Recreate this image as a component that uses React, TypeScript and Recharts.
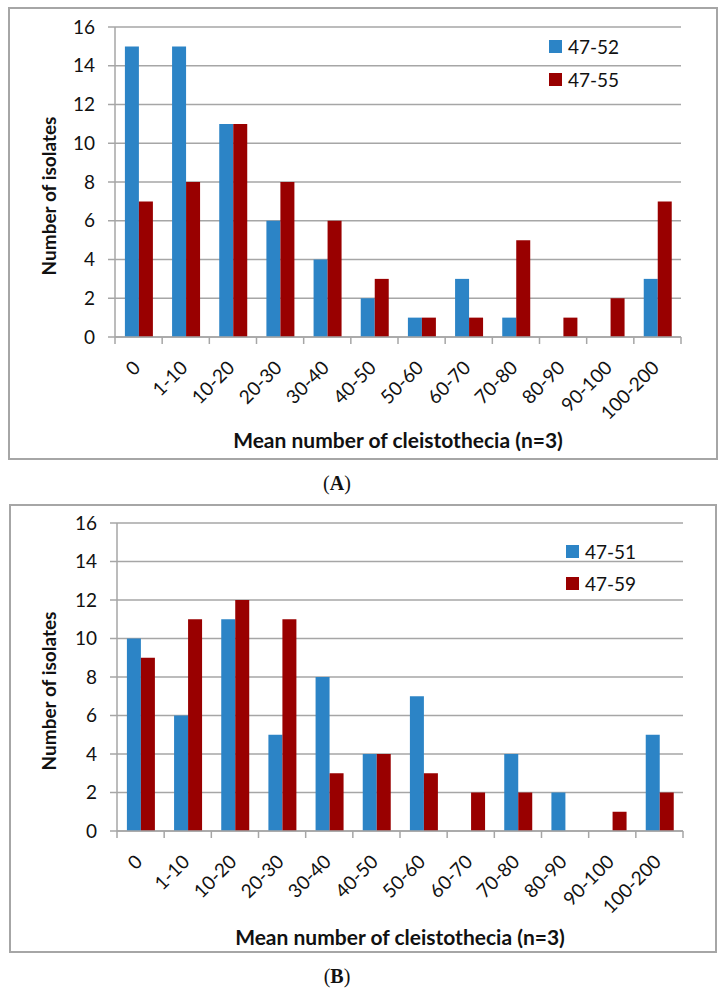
import React from 'react';
import { BarChart, Bar, XAxis, YAxis, CartesianGrid, Legend } from 'recharts';

const categories = ['0', '1-10', '10-20', '20-30', '30-40', '40-50', '50-60', '60-70', '70-80', '80-90', '90-100', '100-200'];
const yTicks = [0, 2, 4, 6, 8, 10, 12, 14, 16];

// panel A
const namesA = ['47-52', '47-55'];
const valuesA1 = [15, 15, 11, 6, 4, 2, 1, 3, 1, 0, 0, 3];
const valuesA2 = [7, 8, 11, 8, 6, 3, 1, 1, 5, 1, 2, 7];

// panel B
const namesB = ['47-51', '47-59'];
const valuesB1 = [10, 6, 11, 5, 8, 4, 7, 0, 4, 2, 0, 5];
const valuesB2 = [9, 11, 12, 11, 3, 4, 3, 2, 2, 0, 1, 2];

const BLUE = '#2C84C6';
const RED = '#990000';
const GRID = '#A6A6A6';
const FONT = 'Lato, "Open Sans", sans-serif';

const XTick = (props: any) => {
  const { x, y, payload, index, visibleTicksCount } = props;
  const half = payload && payload.offset ? payload.offset : 23.6;
  const tx = x + 3;
  const ty = y + 32;
  return (
    <g>
      <line x1={x - half} x2={x - half} y1={y} y2={y + 7} stroke={GRID} strokeWidth={1.5} />
      {index === visibleTicksCount - 1 && (
        <line x1={x + half} x2={x + half} y1={y} y2={y + 7} stroke={GRID} strokeWidth={1.5} />
      )}
      <text x={tx} y={ty} textAnchor="end" fontSize={19} fill="#111" transform={`rotate(-45 ${tx} ${ty})`}>
        {payload.value}
      </text>
    </g>
  );
};

const makeLegend = (rowH: number) => (props: any) => (
  <div style={{ fontFamily: FONT }}>
    {(props.payload || []).map((p: any) => (
      <div key={p.value} style={{ display: 'flex', alignItems: 'center', height: rowH }}>
        <span style={{ display: 'inline-block', width: 13, height: 13, background: p.color, marginRight: 6 }} />
        <span style={{ fontSize: 19, color: '#111' }}>{p.value}</span>
      </div>
    ))}
  </div>
);

interface PanelProps {
  names: string[];
  v1: number[];
  v2: number[];
  left: number;
  top: number;
  width: number;
  height: number;
  margin: { top: number; right: number; left: number; bottom: number };
  xAxisHeight: number;
  legendPos: { left: number; top: number; rowH: number };
  yTitle: { x: number; y: number };
  xTitle: { x: number; y: number };
}

const Panel = (p: PanelProps) => {
  const data = categories.map((c, i) => ({ cat: c, a: p.v1[i], b: p.v2[i] }));
  return (
    <div
      style={{
        position: 'absolute',
        left: p.left,
        top: p.top,
        width: p.width,
        height: p.height,
        border: `2px solid ${GRID}`,
        boxSizing: 'border-box',
        background: '#fff',
      }}
    >
      <BarChart
        width={p.width - 4}
        height={p.height - 4}
        data={data}
        margin={p.margin}
        barCategoryGap="21%"
        barGap={0}
        style={{ fontFamily: FONT }}
      >
        <CartesianGrid vertical={false} stroke={GRID} strokeWidth={1.5} />
        <XAxis
          dataKey="cat"
          interval={0}
          height={p.xAxisHeight}
          tickSize={0}
          tickMargin={0}
          tickLine={false}
          axisLine={{ stroke: GRID, strokeWidth: 1.5 }}
          tick={<XTick />}
          label={{
            content: () => (
              <text x={p.xTitle.x} y={p.xTitle.y} textAnchor="middle" fontSize={21} fontWeight="bold" fill="#111">
                Mean number of cleistothecia (n=3)
              </text>
            ),
          }}
        />
        <YAxis
          width={60}
          domain={[0, 16]}
          ticks={yTicks}
          interval={0}
          tickSize={7}
          tickMargin={13}
          axisLine={{ stroke: GRID, strokeWidth: 1.5 }}
          tickLine={{ stroke: GRID, strokeWidth: 1.5 }}
          tick={{ fontSize: 19, fill: '#111' }}
          label={{
            content: () => (
              <text
                x={p.yTitle.x}
                y={p.yTitle.y}
                textAnchor="middle"
                fontSize={19}
                fontWeight="bold"
                fill="#111"
                transform={`rotate(-90 ${p.yTitle.x} ${p.yTitle.y})`}
              >
                Number of isolates
              </text>
            ),
          }}
        />
        <Legend
          layout="vertical"
          align="center"
          verticalAlign="middle"
          content={makeLegend(p.legendPos.rowH)}
          wrapperStyle={{ left: p.legendPos.left, top: p.legendPos.top, width: 'auto', height: 'auto' }}
        />
        <Bar dataKey="a" name={p.names[0]} fill={BLUE} isAnimationActive={false} />
        <Bar dataKey="b" name={p.names[1]} fill={RED} isAnimationActive={false} />
      </BarChart>
    </div>
  );
};

const panelLabel = (letter: string, top: number) => (
  <div
    style={{
      position: 'absolute',
      left: 287,
      width: 100,
      top,
      textAlign: 'center',
      fontFamily: '"Liberation Serif", "DejaVu Serif", serif',
      fontSize: 20,
      color: '#111',
    }}
  >
    (<b>{letter}</b>)
  </div>
);

export default function App() {
  return (
    <div style={{ position: 'absolute', left: 0, top: 0, width: 724, height: 996, background: '#fff' }}>
      <Panel
        names={namesA}
        v1={valuesA1}
        v2={valuesA2}
        left={8}
        top={7}
        width={710}
        height={453}
        margin={{ top: 18, right: 35, left: 45, bottom: 0 }}
        xAxisHeight={121}
        legendPos={{ left: 539, top: 21, rowH: 33 }}
        yTitle={{ x: 46, y: 187 }}
        xTitle={{ x: 388, y: 439 }}
      />
      {panelLabel('A', 472)}
      <Panel
        names={namesB}
        v1={valuesB1}
        v2={valuesB2}
        left={9}
        top={504}
        width={708}
        height={449}
        margin={{ top: 17, right: 32, left: 46, bottom: 0 }}
        xAxisHeight={120}
        legendPos={{ left: 555, top: 29, rowH: 32 }}
        yTitle={{ x: 45, y: 185 }}
        xTitle={{ x: 389, y: 439 }}
      />
      {panelLabel('B', 965)}
    </div>
  );
}
